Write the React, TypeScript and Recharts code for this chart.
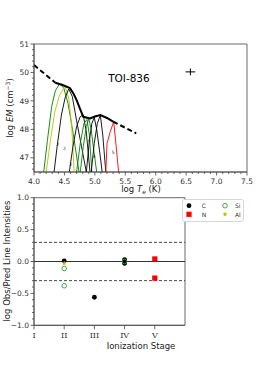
import React from 'react'
import {
  ComposedChart, Line, Scatter, XAxis, YAxis, ReferenceLine, ReferenceArea, ErrorBar, Legend,
} from 'recharts'

const FONT = 'DejaVu Sans, sans-serif'
const INK = '#444'
const GREEN = '#008000'
const YELLOW = '#bfbf00'
const RED = '#ff0000'

// ---- top panel: EM distribution and loci ----
const emSolid = [
  { x: 4.35, y: 49.64 }, { x: 4.47, y: 49.56 }, { x: 4.59, y: 49.45 }, { x: 4.65, y: 49.25 },
  { x: 4.70, y: 49.03 }, { x: 4.76, y: 48.70 }, { x: 4.81, y: 48.44 }, { x: 4.92, y: 48.38 },
  { x: 5.00, y: 48.45 }, { x: 5.09, y: 48.50 }, { x: 5.20, y: 48.40 }, { x: 5.30, y: 48.27 },
]
const emDashLeft = [{ x: 4.0, y: 50.26 }, { x: 4.35, y: 49.64 }]
const emDashRight = [{ x: 5.30, y: 48.27 }, { x: 5.68, y: 47.86 }]

const siII = [
  { x: 4.16, y: 46.5 }, { x: 4.22, y: 47.6 }, { x: 4.29, y: 48.8 }, { x: 4.35, y: 49.35 },
  { x: 4.42, y: 49.6 }, { x: 4.49, y: 49.45 }, { x: 4.56, y: 48.9 }, { x: 4.64, y: 47.9 }, { x: 4.74, y: 46.5 },
]
const alII = [
  { x: 4.20, y: 46.5 }, { x: 4.27, y: 47.6 }, { x: 4.34, y: 48.6 }, { x: 4.42, y: 49.2 },
  { x: 4.51, y: 49.52 }, { x: 4.57, y: 49.1 }, { x: 4.62, y: 48.1 }, { x: 4.66, y: 46.5 },
]
const cII = [
  { x: 4.33, y: 46.5 }, { x: 4.38, y: 47.4 }, { x: 4.45, y: 48.5 }, { x: 4.51, y: 49.1 },
  { x: 4.57, y: 49.42 }, { x: 4.63, y: 49.15 }, { x: 4.70, y: 48.3 }, { x: 4.78, y: 47.4 }, { x: 4.86, y: 46.5 },
]
const cIII = [
  { x: 4.58, y: 46.5 }, { x: 4.64, y: 47.4 }, { x: 4.70, y: 48.1 }, { x: 4.76, y: 48.45 },
  { x: 4.81, y: 48.5 }, { x: 4.86, y: 47.9 }, { x: 4.92, y: 46.5 },
]
const siIVa = [
  { x: 4.70, y: 46.5 }, { x: 4.76, y: 47.5 }, { x: 4.82, y: 48.2 }, { x: 4.87, y: 48.35 },
  { x: 4.91, y: 47.8 }, { x: 4.95, y: 46.5 },
]
const siIVb = [
  { x: 4.76, y: 46.5 }, { x: 4.81, y: 47.4 }, { x: 4.86, y: 48.1 }, { x: 4.90, y: 48.38 },
  { x: 4.94, y: 48.0 }, { x: 4.98, y: 47.3 }, { x: 5.03, y: 46.5 },
]
const cIVa = [
  { x: 4.86, y: 46.5 }, { x: 4.91, y: 47.6 }, { x: 4.95, y: 48.2 }, { x: 4.99, y: 48.42 },
  { x: 5.03, y: 48.0 }, { x: 5.08, y: 47.2 }, { x: 5.12, y: 46.5 },
]
const cIVb = [
  { x: 4.94, y: 46.5 }, { x: 4.99, y: 47.5 }, { x: 5.04, y: 48.2 }, { x: 5.09, y: 48.5 },
  { x: 5.13, y: 47.8 }, { x: 5.18, y: 46.5 },
]
const nV = [
  { x: 5.18, y: 46.5 }, { x: 5.20, y: 47.5 }, { x: 5.25, y: 47.9 }, { x: 5.31, y: 48.27 },
  { x: 5.35, y: 47.4 }, { x: 5.39, y: 46.5 },
]

const loci = [
  { data: siII, color: GREEN }, { data: alII, color: YELLOW }, { data: cII, color: '#000' },
  { data: cIII, color: '#000' }, { data: siIVa, color: GREEN }, { data: siIVb, color: GREEN },
  { data: cIVa, color: '#000' }, { data: cIVb, color: '#000' }, { data: nV, color: RED },
]

const locusLabels = [
  { x: 4.39, y: 47.45, t: '2' }, { x: 4.50, y: 47.31, t: '2' }, { x: 4.60, y: 46.77, t: '3' },
  { x: 4.905, y: 47.62, t: '4' }, { x: 4.99, y: 47.06, t: '4' }, { x: 5.30, y: 47.2, t: '5' },
]
const starLabel = [{ x: 5.56, y: 49.81, t: 'TOI-836' }]
const errorCross = [{ x: 6.57, y: 50.02, ex: 0.08, ey: 0.12 }]

const emMajor = [47, 48, 49, 50, 51]
const tMajor = [4.0, 4.5, 5.0, 5.5, 6.0, 6.5, 7.0, 7.5]

// ---- bottom panel: obs/pred ratios ----
const stageLabels = ['I', 'II', 'III', 'IV', 'V']
const stageTicks = [1, 2, 3, 4, 5]
const ratioMajor = [-1, -0.5, 0, 0.5, 1]

const carbon = [{ x: 2, y: 0.01 }, { x: 3, y: -0.56 }, { x: 4, y: 0.03 }, { x: 4, y: 0.0 }, { x: 4, y: -0.03 }]
const silicon = [{ x: 2, y: -0.11 }, { x: 2, y: -0.38 }, { x: 4, y: 0.0 }]
const nitrogen = [{ x: 5, y: 0.04 }, { x: 5, y: -0.26 }]
const aluminium = [{ x: 2, y: -0.03 }]

// minor tick positions
const steps = (a: number, b: number, s: number) => {
  const n = Math.round((b - a) / s)
  const out: number[] = []
  for (let i = 0; i <= n; i++) out.push(Math.round((a + i * s) * 100) / 100)
  return out
}
const isIn = (list: number[], v: number) => list.some((m) => Math.abs(m - v) < 1e-6)

const starPoints = (cx: number, cy: number, R: number) => {
  const r = R * 0.45
  const pts: string[] = []
  for (let i = 0; i < 10; i++) {
    const a = -Math.PI / 2 + (i * Math.PI) / 5
    const rr = i % 2 === 0 ? R : r
    pts.push(`${cx + rr * Math.cos(a)},${cy + rr * Math.sin(a)}`)
  }
  return pts.join(' ')
}

const marker = (kind: string, cx: number, cy: number) => {
  if (kind === 'C') return <circle cx={cx} cy={cy} r={2.4} fill="#000" />
  if (kind === 'Si') return <circle cx={cx} cy={cy} r={2.3} fill="none" stroke="#2ca02c" strokeWidth={0.9} />
  if (kind === 'N') return <rect x={cx - 2.6} y={cy - 2.6} width={5.2} height={5.2} fill={RED} />
  return <polygon points={starPoints(cx, cy, 2.6)} fill={YELLOW} />
}

const YTick = (props: any) => {
  const { x, y, payload, majors, fmt } = props
  const major = isIn(majors, payload.value)
  return (
    <g>
      <line x1={x} x2={x - (major ? 3.5 : 2)} y1={y} y2={y} stroke={INK} strokeWidth={0.8} />
      {major && (
        <text x={x - 5} y={y} dy={2.7} textAnchor="end" fontSize={7.5} fontFamily={FONT} fill="#333">
          {fmt(payload.value)}
        </text>
      )}
    </g>
  )
}

const XTick = (props: any) => {
  const { x, y, payload, majors } = props
  const major = isIn(majors, payload.value)
  return (
    <g>
      <line x1={x} x2={x} y1={y} y2={y + (major ? 3.5 : 2)} stroke={INK} strokeWidth={0.8} />
      {major && (
        <text x={x} y={y + 11.5} textAnchor="middle" fontSize={7.5} fontFamily={FONT} fill="#333">
          {payload.value.toFixed(1)}
        </text>
      )}
    </g>
  )
}

const StageTick = (props: any) => {
  const { x, y, payload } = props
  return (
    <g>
      <line x1={x} x2={x} y1={y} y2={y + 4} stroke={INK} strokeWidth={0.8} />
      <text x={x} y={y + 13} textAnchor="middle" fontSize={8} fontFamily="DejaVu Serif, serif" fill="#333">
        {stageLabels[payload.value - 1]}
      </text>
    </g>
  )
}

const LegendBox = () => {
  const rows = [
    { k: 'C', x: 7, y: 6.7, tx: 19.7 }, { k: 'Si', x: 43, y: 6.7, tx: 53 },
    { k: 'N', x: 7, y: 15.3, tx: 19.7 }, { k: 'Al', x: 43, y: 15.3, tx: 53 },
  ]
  return (
    <svg width={62} height={23} style={{ display: 'block' }}>
      <rect x={0.5} y={0.5} width={61} height={22} rx={2} fill="#fff" stroke="#ccc" strokeWidth={0.8} />
      {rows.map((r) => (
        <g key={r.k}>
          {marker(r.k, r.x, r.y)}
          <text x={r.tx} y={r.y} dy={2.2} fontSize={6} fontFamily={FONT} fill="#333">{r.k}</text>
        </g>
      ))}
    </svg>
  )
}

const TopPanel = () => (
  <ComposedChart width={274} height={200} margin={{ top: 44, right: 27, left: 0, bottom: 0 }}>
    <XAxis
      type="number" dataKey="x" domain={[4, 7.5]} ticks={steps(4, 7.5, 0.1)} interval={0}
      allowDataOverflow height={28} tickSize={0} tickMargin={0}
      axisLine={{ stroke: INK, strokeWidth: 0.8 }}
      tick={(p: any) => <XTick {...p} majors={tMajor} />}
      label={{
        content: () => (
          <text x={141} y={192} textAnchor="middle" fontSize={8.5} fontFamily={FONT} fill="#222">
            log <tspan fontStyle="italic">T</tspan>
            <tspan fontSize={6} dy={2} fontStyle="italic">e</tspan>
            <tspan dy={-2}> (K)</tspan>
          </text>
        ),
      }}
    />
    <YAxis
      type="number" dataKey="y" domain={[46.5, 51]} ticks={steps(46.6, 51, 0.2)} interval={0}
      allowDataOverflow width={34} tickSize={0} tickMargin={0}
      axisLine={{ stroke: INK, strokeWidth: 0.8 }}
      tick={(p: any) => <YTick {...p} majors={emMajor} fmt={(v: number) => String(v)} />}
      label={{
        content: () => (
          <text x={10} y={108} transform="rotate(-90 10 108)" textAnchor="middle" dominantBaseline="central"
            fontSize={8.5} fontFamily={FONT} fill="#222">
            log <tspan fontStyle="italic">EM</tspan> (cm<tspan dy={-3} fontSize={6}>−3</tspan>
            <tspan dy={3}>)</tspan>
          </text>
        ),
      }}
    />
    <ReferenceArea x1={4} x2={7.5} y1={46.5} y2={51} fill="none" stroke={INK} strokeWidth={0.8} />
    {loci.map((l, i) => (
      <Line key={i} data={l.data} dataKey="y" stroke={l.color} strokeWidth={0.9} dot={false}
        isAnimationActive={false} type="linear" />
    ))}
    <Line data={emDashLeft} dataKey="y" stroke="#000" strokeWidth={2} strokeDasharray="5 3" dot={false} isAnimationActive={false} />
    <Line data={emSolid} dataKey="y" stroke="#000" strokeWidth={2} dot={false} isAnimationActive={false} />
    <Line data={emDashRight} dataKey="y" stroke="#000" strokeWidth={2} strokeDasharray="5 3" dot={false} isAnimationActive={false} />
    <Scatter data={locusLabels} isAnimationActive={false}
      shape={(p: any) => (
        <text x={p.cx} y={p.cy} textAnchor="middle" dominantBaseline="central" fontSize={4.5} fontFamily={FONT} fill="#222">
          {p.payload?.t ?? p.t}
        </text>
      )}
    />
    <Scatter data={starLabel} isAnimationActive={false}
      shape={(p: any) => (
        <text x={p.cx} y={p.cy} textAnchor="middle" dominantBaseline="central" fontSize={10.5} fontFamily={FONT} fill="#000">
          {p.payload?.t ?? p.t}
        </text>
      )}
    />
    <Scatter data={errorCross} isAnimationActive={false} shape={() => <g />}>
      <ErrorBar dataKey="ex" direction="x" width={0} stroke="#000" strokeWidth={1} />
      <ErrorBar dataKey="ey" direction="y" width={0} stroke="#000" strokeWidth={1} />
    </Scatter>
  </ComposedChart>
)

const BottomPanel = () => (
  <ComposedChart width={274} height={186} margin={{ top: 17.7, right: 27, left: 0, bottom: 0 }}>
    <XAxis
      type="number" dataKey="x" domain={[1, 6]} ticks={stageTicks} interval={0}
      height={40.7} tickSize={0} tickMargin={0}
      axisLine={{ stroke: INK, strokeWidth: 0.8 }}
      tick={(p: any) => <StageTick {...p} />}
      label={{
        content: () => (
          <text x={141} y={169} textAnchor="middle" fontSize={8.5} fontFamily={FONT} fill="#222">
            Ionization Stage
          </text>
        ),
      }}
    />
    <YAxis
      type="number" dataKey="y" domain={[-1, 1]} ticks={steps(-1, 1, 0.1)} interval={0}
      allowDataOverflow width={34} tickSize={0} tickMargin={0}
      axisLine={{ stroke: INK, strokeWidth: 0.8 }}
      tick={(p: any) => (
        <YTick {...p} majors={ratioMajor} fmt={(v: number) => v.toFixed(1).replace('-', '−')} />
      )}
      label={{
        content: () => (
          <text x={7} y={81} transform="rotate(-90 7 81)" textAnchor="middle" dominantBaseline="central"
            fontSize={8.5} fontFamily={FONT} fill="#222">
            log Obs/Pred Line Intensities
          </text>
        ),
      }}
    />
    <ReferenceArea x1={1} x2={6} y1={-1} y2={1} fill="none" stroke={INK} strokeWidth={0.8} />
    <ReferenceLine y={0} stroke="#333" strokeWidth={1} />
    <ReferenceLine y={0.3} stroke="#333" strokeWidth={0.9} strokeDasharray="3 2" />
    <ReferenceLine y={-0.3} stroke="#333" strokeWidth={0.9} strokeDasharray="3 2" />
    <Scatter name="C" data={carbon} isAnimationActive={false} shape={(p: any) => marker('C', p.cx, p.cy)} />
    <Scatter name="N" data={nitrogen} isAnimationActive={false} shape={(p: any) => marker('N', p.cx, p.cy)} />
    <Scatter name="Si" data={silicon} isAnimationActive={false} shape={(p: any) => marker('Si', p.cx, p.cy)} />
    <Scatter name="Al" data={aluminium} isAnimationActive={false} shape={(p: any) => marker('Al', p.cx, p.cy)} />
    <Legend verticalAlign="middle" align="right" layout="horizontal"
      wrapperStyle={{ position: 'absolute', left: 182, top: 19, width: 62, height: 23 }}
      content={() => <LegendBox />}
    />
  </ComposedChart>
)

export default function App() {
  return (
    <div style={{ position: 'absolute', left: 0, top: 0, width: 274, height: 366, background: '#fff' }}>
      <div style={{ position: 'absolute', left: 0, top: 0 }}>
        <TopPanel />
      </div>
      <div style={{ position: 'absolute', left: 0, top: 180 }}>
        <BottomPanel />
      </div>
    </div>
  )
}
